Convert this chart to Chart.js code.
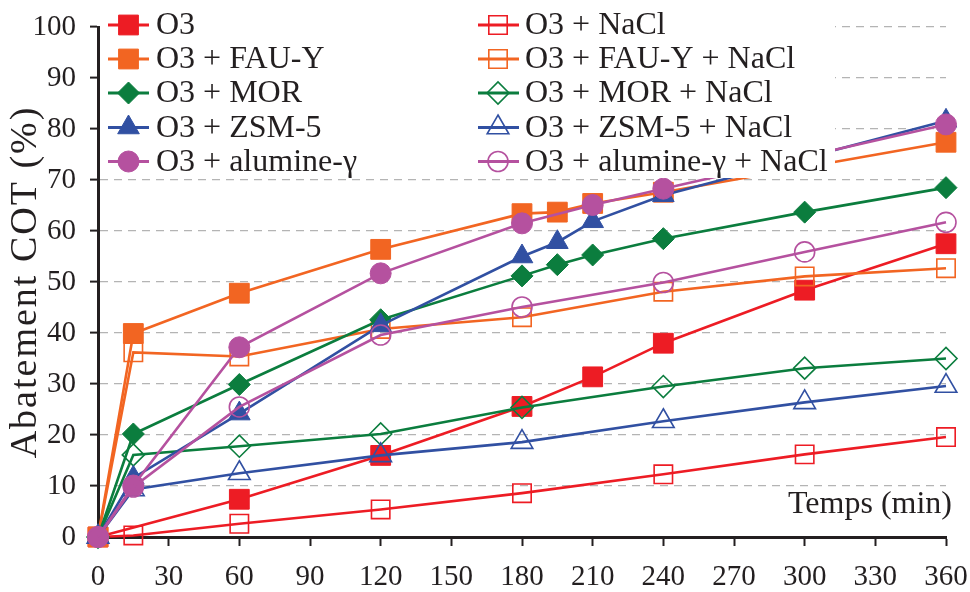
<!DOCTYPE html>
<html><head><meta charset="utf-8">
<script src="https://cdn.jsdelivr.net/npm/chart.js@4/dist/chart.umd.min.js"></script>
<style>html,body{margin:0;padding:0;background:#fff}#wrap{width:970px;height:592px;position:relative}</style>
</head><body><div id="wrap"><canvas id="c" width="970" height="592"></canvas></div>
<script>
// ---- data (time in min, abatement COT in %) ----
const labels = ['O3', 'O3 + NaCl', 'O3 + FAU-Y', 'O3 + FAU-Y + NaCl', 'O3 + MOR', 'O3 + MOR + NaCl',
  'O3 + ZSM-5', 'O3 + ZSM-5 + NaCl', 'O3 + alumine-\u03B3', 'O3 + alumine-\u03B3 + NaCl'];
const xTicks = [0, 30, 60, 90, 120, 150, 180, 210, 240, 270, 300, 330, 360];
const yTicks = [0, 10, 20, 30, 40, 50, 60, 70, 80, 90, 100];

const tO3 = [0, 60, 120, 180, 210, 240, 300, 360];
const vO3 = [0, 7.4, 16.0, 25.6, 31.4, 38.0, 48.4, 57.5];
const tNaCl = [0, 15, 60, 120, 180, 240, 300, 360];
const vO3NaCl = [0, 0.3, 2.6, 5.4, 8.6, 12.3, 16.2, 19.6];
const tFAU = [0, 15, 60, 120, 180, 195, 210, 240, 360];
const vFAU = [0, 39.9, 47.8, 56.4, 63.4, 63.7, 65.4, 67.6, 77.4];
const vFAUNaCl = [0, 36.2, 35.4, 40.8, 43.1, 48.1, 51.1, 52.7];
const tMOR = [0, 15, 60, 120, 180, 195, 210, 240, 300, 360];
const vMOR = [0, 20.2, 29.9, 42.6, 51.2, 53.4, 55.3, 58.5, 63.7, 68.5];
const vMORNaCl = [0, 16.1, 17.8, 20.2, 25.4, 29.5, 33.1, 35.0];
const tZSM = [0, 15, 60, 120, 180, 195, 210, 240, 360];
const vZSM = [0, 11.6, 24.2, 41.5, 55.0, 57.8, 61.9, 67.0, 81.6];
const vZSMNaCl = [0, 9.3, 12.5, 16.0, 18.6, 22.7, 26.4, 29.6];
const tAlu = [0, 15, 60, 120, 180, 210, 240, 360];
const vAlu = [0, 10.1, 37.2, 51.7, 61.5, 65.1, 68.3, 80.9];
const vAluNaCl = [0, 9.8, 25.5, 39.6, 45.1, 49.9, 55.9, 61.7];

// ---- styles ----
const RED = '#ED1C24', ORANGE = '#F26522', GREEN = '#0B7D3E', BLUE = '#3150A2', PURPLE = '#B5519F';
const TXT = '#231F20';
const SERIF = '"Liberation Serif", "Times New Roman", serif';

const defs = [
  [tO3, vO3, RED, 'rect', true, 14],
  [tNaCl, vO3NaCl, RED, 'rect', false, 13],
  [tFAU, vFAU, ORANGE, 'rect', true, 14],
  [tNaCl, vFAUNaCl, ORANGE, 'rect', false, 13],
  [tMOR, vMOR, GREEN, 'rectRot', true, 11],
  [tNaCl, vMORNaCl, GREEN, 'rectRot', false, 11],
  [tZSM, vZSM, BLUE, 'triangle', true, 12.5],
  [tNaCl, vZSMNaCl, BLUE, 'triangle', false, 12.5],
  [tAlu, vAlu, PURPLE, 'circle', true, 10.5],
  [tNaCl, vAluNaCl, PURPLE, 'circle', false, 10],
];

const datasets = defs.map((d, i) => ({
  label: labels[i],
  data: d[0].map((t, j) => ({x: t, y: d[1][j]})),
  borderColor: d[2],
  backgroundColor: d[4] ? d[2] : 'rgba(0,0,0,0)',
  pointBackgroundColor: d[4] ? d[2] : 'rgba(0,0,0,0)',
  pointBorderColor: d[2],
  pointBorderWidth: d[4] ? 1 : 1.6,
  pointStyle: d[3],
  pointRadius: d[5],
  pointHoverRadius: d[5],
  borderWidth: 2.6,
  tension: 0,
  order: 20 - i,
  clip: false
}));

function marker(ctx, style, x, y, r) {
  ctx.beginPath();
  if (style === 'rect') {
    const s = Math.SQRT1_2 * r;
    ctx.rect(x - s, y - s, 2 * s, 2 * s);
  } else if (style === 'rectRot') {
    ctx.moveTo(x - r, y); ctx.lineTo(x, y - r); ctx.lineTo(x + r, y); ctx.lineTo(x, y + r); ctx.closePath();
  } else if (style === 'triangle') {
    let a = 0;
    ctx.moveTo(x + Math.sin(a) * r, y - Math.cos(a) * r);
    a += 2 * Math.PI / 3; ctx.lineTo(x + Math.sin(a) * r, y - Math.cos(a) * r);
    a += 2 * Math.PI / 3; ctx.lineTo(x + Math.sin(a) * r, y - Math.cos(a) * r);
    ctx.closePath();
  } else {
    ctx.arc(x, y, r, 0, Math.PI * 2);
  }
}

const overlay = {
  id: 'overlay',
  afterDatasetsDraw(chart) {
    const ctx = chart.ctx;
    const area = chart.chartArea;
    ctx.save();
    // legend box (white, inside the plot)
    ctx.fillStyle = '#fff';
    ctx.fillRect(area.left + 2, 0, 835 - area.left - 2, 178);
    const cols = [{lx: 108, mx: 128.5, tx: 156}, {lx: 478, mx: 498, tx: 525}];
    const rowY = [25, 59, 93, 127.5, 161.5];
    chart.data.datasets.forEach((ds, i) => {
      const c = cols[i % 2], y = rowY[Math.floor(i / 2)];
      ctx.strokeStyle = ds.borderColor; ctx.lineWidth = 3;
      ctx.setLineDash([]);
      ctx.beginPath(); ctx.moveTo(c.lx, y); ctx.lineTo(c.lx + 41, y); ctx.stroke();
      marker(ctx, ds.pointStyle, c.mx, y, ds.pointRadius);
      if (ds.pointBackgroundColor !== 'rgba(0,0,0,0)') { ctx.fillStyle = ds.pointBackgroundColor; ctx.fill(); }
      ctx.lineWidth = ds.pointBorderWidth; ctx.strokeStyle = ds.pointBorderColor; ctx.stroke();
      ctx.fillStyle = TXT;
      ctx.font = '32px ' + SERIF;
      ctx.textBaseline = 'middle';
      ctx.textAlign = 'left';
      ctx.fillText(ds.label, c.tx, y + 1);
    });
    // x-axis title inside the plot
    ctx.font = '32px ' + SERIF;
    ctx.textAlign = 'right';
    ctx.textBaseline = 'alphabetic';
    ctx.fillStyle = TXT;
    ctx.fillText('Temps (min)', 952, 513);
    ctx.restore();
  }
};

function spacedTitle(s) {
  if (s._spaced) return;
  const orig = s.drawTitle;
  s.drawTitle = function () {
    const c = this.ctx;
    c.save();
    c.letterSpacing = '2px';
    orig.apply(this, arguments);
    c.restore();
  };
  s._spaced = true;
}

new Chart(document.getElementById('c'), {
  type: 'line',
  data: {datasets},
  options: {
    responsive: false,
    animation: false,
    events: [],
    layout: {padding: {left: 0, top: 27, right: 24, bottom: 0}},
    plugins: {legend: {display: false}, tooltip: {enabled: false}, title: {display: false}},
    scales: {
      x: {
        type: 'linear', min: 0, max: 360,
        afterBuildTicks: s => { s.ticks = xTicks.map(v => ({value: v})); },
        afterFit: s => { s.height = 55; s.paddingLeft = 0; s.paddingRight = 0; },
        grid: {drawOnChartArea: false, drawTicks: true, tickLength: 9, tickColor: TXT, tickWidth: 2},
        border: {display: true, color: TXT, width: 3},
        ticks: {color: TXT, font: {family: SERIF, size: 29}, padding: 14, maxRotation: 0, autoSkip: false}
      },
      y: {
        type: 'linear', min: 0, max: 100,
        afterBuildTicks: s => { s.ticks = yTicks.map(v => ({value: v})); },
        afterFit: s => { s.width = 98; s.paddingTop = 0; s.paddingBottom = 0; spacedTitle(s); },
        grid: {drawOnChartArea: true, color: '#b4b4b4', lineWidth: 1.2, drawTicks: true, tickLength: 8,
               tickColor: TXT, tickWidth: 2, tickBorderDash: []},
        border: {display: true, color: TXT, width: 3, dash: [8, 6]},
        ticks: {color: TXT, font: {family: SERIF, size: 29}, padding: 14, autoSkip: false},
        title: {display: true, text: 'Abatement COT (%)', color: TXT, font: {family: SERIF, size: 38},
                padding: {top: 3, bottom: 0}}
      }
    }
  },
  plugins: [overlay]
});
</script></body></html>
